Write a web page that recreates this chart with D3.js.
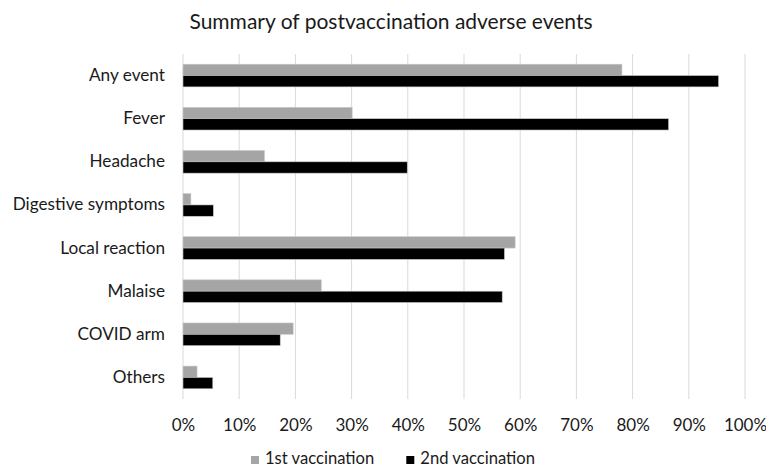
<!DOCTYPE html>
<html>
<head>
<meta charset="utf-8">
<script src="https://cdn.jsdelivr.net/npm/d3@7"></script>
<style>
  html, body { margin: 0; padding: 0; background: #fff; }
  svg { display: block; font-family: Lato, "Open Sans", sans-serif; }
</style>
</head>
<body>
<svg id="chart" width="766" height="468"></svg>
<script>
// Adverse events reported after each vaccination dose (% of respondents)
const categories = ["Any event", "Fever", "Headache", "Digestive symptoms",
                    "Local reaction", "Malaise", "COVID arm", "Others"];
const firstDose  = [78.1, 30.1, 14.5, 1.4, 59.1, 24.6, 19.6, 2.5];
const secondDose = [95.3, 86.4, 39.9, 5.4, 57.2, 56.8, 17.3, 5.3];
const seriesNames = ["1st vaccination", "2nd vaccination"];
const xTicks = [0, 10, 20, 30, 40, 50, 60, 70, 80, 90, 100];

const colors = ["#a5a5a5", "#000000"];
const textColor = "#1a1a1a";
const svg = d3.select("#chart");

const margin = { top: 54, right: 21, bottom: 69, left: 183 };
const width = 766 - margin.left - margin.right;
const height = 468 - margin.top - margin.bottom;

const g = svg.append("g").attr("transform", `translate(${margin.left},${margin.top})`);

const x = d3.scaleLinear().domain([0, 100]).range([0, width]);
const y = d3.scaleBand().domain(categories).range([0, height]).paddingInner(0.474).paddingOuter(0.237);
const ySub = d3.scaleBand().domain(seriesNames).range([0, y.bandwidth()]);

// vertical gridlines
g.append("g")
  .selectAll("line")
  .data(xTicks)
  .join("line")
  .attr("x1", d => x(d)).attr("x2", d => x(d))
  .attr("y1", 0).attr("y2", height)
  .attr("stroke", "#d9d9d9")
  .attr("stroke-width", 1);

// bars
const rows = categories.map((c, i) => ({ cat: c, vals: [firstDose[i], secondDose[i]] }));
const grp = g.selectAll(".cat")
  .data(rows)
  .join("g")
  .attr("class", "cat")
  .attr("transform", d => `translate(0,${y(d.cat)})`);

grp.selectAll("rect")
  .data(d => d.vals.map((v, k) => ({ v, k })))
  .join("rect")
  .attr("x", x(0))
  .attr("y", d => ySub(seriesNames[d.k]))
  .attr("width", d => x(d.v) - x(0))
  .attr("height", ySub.bandwidth())
  .attr("fill", d => colors[d.k])
  .attr("stroke", "#c8c8c8")
  .attr("stroke-width", 0.6);

// category axis
const yAxis = d3.axisLeft(y).tickSize(0).tickPadding(18);
g.append("g").call(yAxis)
  .call(s => s.select(".domain").remove())
  .selectAll("text")
  .attr("font-size", 17.2)
  .attr("font-family", "Lato, 'Open Sans', sans-serif")
  .attr("fill", textColor);

// value axis
const xAxis = d3.axisBottom(x).tickValues(xTicks).tickSize(0).tickPadding(20)
  .tickFormat(d => d + "%");
g.append("g").attr("transform", `translate(0,${height})`).call(xAxis)
  .call(s => s.select(".domain").remove())
  .selectAll("text")
  .attr("font-size", 17)
  .attr("font-family", "Lato, 'Open Sans', sans-serif")
  .attr("fill", textColor);

// title
svg.append("text")
  .attr("x", 391).attr("y", 28.5)
  .attr("text-anchor", "middle")
  .attr("font-size", 21)
  .attr("fill", textColor)
  .text("Summary of postvaccination adverse events");

// legend
const legend = svg.append("g").attr("transform", "translate(251,460)");
const items = legend.selectAll("g")
  .data(seriesNames)
  .join("g")
  .attr("transform", (d, i) => `translate(${i * 155.3},0)`);
items.append("rect")
  .attr("x", 0).attr("y", -4).attr("width", 8).attr("height", 8)
  .attr("fill", (d, i) => colors[i]);
items.append("text")
  .attr("x", 14).attr("y", 4)
  .attr("font-size", 16.6)
  .attr("fill", textColor)
  .text(d => d);
</script>
</body>
</html>
